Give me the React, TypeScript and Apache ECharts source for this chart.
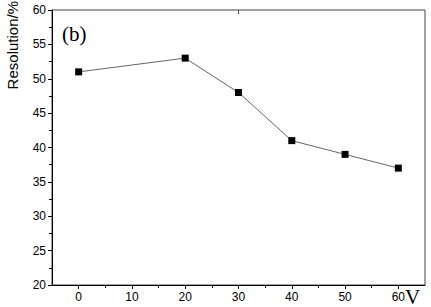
import React, { useEffect, useRef } from "react";
import * as echarts from "echarts";

const voltages = [0, 20, 30, 40, 50, 60];
const resolution = [51, 53, 48, 41, 39, 37];
const xMajorTicks = [0, 10, 20, 30, 40, 50, 60];
const xMinorTicks = [5, 15, 25, 35, 45, 55];
const xTopTicks = [30];
const yAxisTitle = "Resolution/%";
const panelLabel = "(b)";
const xUnit = "V";

const sans = "'Liberation Sans', Arial, sans-serif";
const serif = "'Liberation Serif', 'Times New Roman', serif";

export default function App() {
  const ref = useRef<HTMLDivElement>(null);
  useEffect(() => {
    if (!ref.current) return;
    const chart = echarts.init(ref.current, undefined, { renderer: "svg" });
    chart.setOption({
      animation: false,
      backgroundColor: "#fff",
      grid: {
        left: 52,
        top: 10,
        right: 6,
        bottom: 22,
        show: true,
        borderColor: "#444",
        borderWidth: 1,
      },
      xAxis: [
        {
          type: "value",
          min: -5,
          max: 65,
          axisLine: { show: true, onZero: false, lineStyle: { color: "#000", width: 1 } },
          splitLine: { show: false },
          axisTick: {
            show: true,
            inside: false,
            length: 4,
            customValues: xMajorTicks,
            lineStyle: { color: "#000" },
          },
          axisLabel: {
            customValues: xMajorTicks,
            color: "#000",
            fontFamily: sans,
            fontSize: 12,
            margin: 6,
          },
        },
        {
          type: "value",
          min: -5,
          max: 65,
          position: "bottom",
          axisLine: { show: false, onZero: false },
          splitLine: { show: false },
          axisTick: {
            show: true,
            inside: false,
            length: 3,
            customValues: xMinorTicks,
            lineStyle: { color: "#000" },
          },
          axisLabel: { show: false },
        },
        {
          type: "value",
          min: -5,
          max: 65,
          position: "top",
          axisLine: { show: false, onZero: false },
          splitLine: { show: false },
          axisTick: {
            show: true,
            inside: true,
            length: 4,
            customValues: xTopTicks,
            lineStyle: { color: "#444" },
          },
          axisLabel: { show: false },
        },
      ],
      yAxis: {
        type: "value",
        min: 20,
        max: 60,
        interval: 5,
        axisLine: { show: true, onZero: false, lineStyle: { color: "#000", width: 1 } },
        splitLine: { show: false },
        axisTick: { show: true, inside: false, length: 4, lineStyle: { color: "#000" } },
        minorTick: { show: true, splitNumber: 2, length: 3, lineStyle: { color: "#000" } },
        axisLabel: {
          color: "#000",
          fontFamily: sans,
          fontSize: 12,
          margin: 6,
        },
      },
      series: [
        {
          type: "line",
          xAxisIndex: 0,
          data: voltages.map((v, i) => [v, resolution[i]]),
          symbol: "rect",
          symbolSize: 7,
          itemStyle: { color: "#000" },
          lineStyle: { color: "#666", width: 1 },
        },
      ],
      graphic: [
        {
          type: "text",
          left: 5,
          top: 1,
          rotation: Math.PI / 2,
          style: {
            text: yAxisTitle,
            fill: "#000",
            font: `15px ${sans}`,
          },
        },
        {
          type: "text",
          left: 62,
          top: 23,
          style: {
            text: panelLabel,
            fill: "#000",
            font: `21px ${serif}`,
          },
        },
        {
          type: "text",
          left: 405,
          top: 286,
          style: {
            text: xUnit,
            fill: "#000",
            font: `21px ${serif}`,
          },
        },
      ],
    });
    return () => chart.dispose();
  }, []);
  return <div ref={ref} style={{ width: 431, height: 307, position: "absolute", left: 0, top: 0 }} />;
}
